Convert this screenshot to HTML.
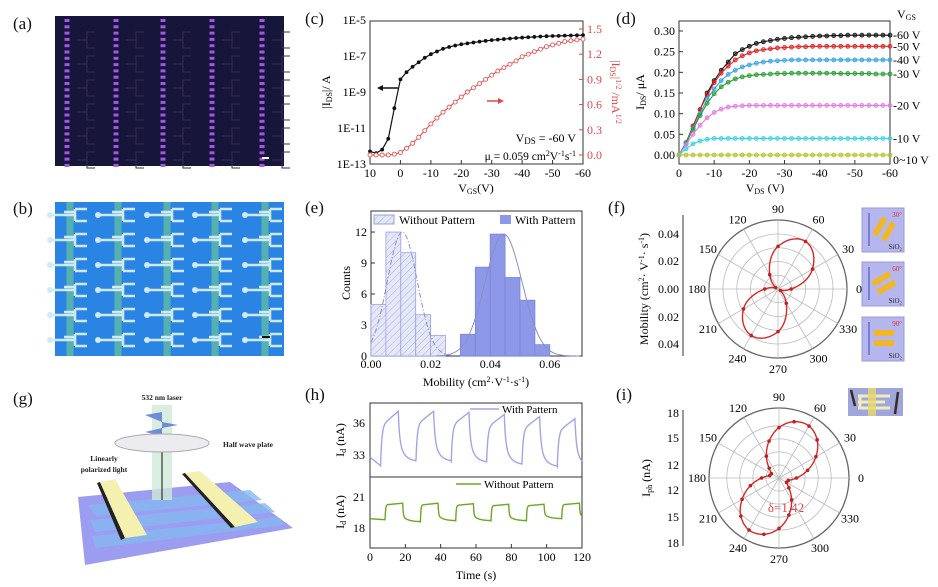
<!DOCTYPE html>
<html><head><meta charset="utf-8"><style>
html,body{margin:0;padding:0;background:#fff;}
svg{display:block;font-family:"Liberation Serif",serif;}
</style></head><body>
<svg id="fig" width="938" height="587" viewBox="0 0 938 587" xmlns="http://www.w3.org/2000/svg">
<defs>
<pattern id="hatch" width="5" height="5" patternUnits="userSpaceOnUse" patternTransform="rotate(45)">
<rect width="5" height="5" fill="#e6e8f8"/><line x1="0" y1="0" x2="0" y2="5" stroke="#a9b0e4" stroke-width="1"/>
</pattern>
</defs>
<g font-size="17" fill="#111">
<text x="13" y="29">(a)</text>
<text x="13" y="214">(b)</text>
<text x="13" y="404">(g)</text>
<text x="305" y="24">(c)</text>
<text x="616" y="24">(d)</text>
<text x="305" y="213">(e)</text>
<text x="608" y="213">(f)</text>
<text x="305" y="400">(h)</text>
<text x="616" y="400">(i)</text>
</g>
<!-- panel a -->
<g id="pa"><rect x="55" y="16" width="229" height="150" fill="#15163a"/></g>
<!-- panel b -->
<g id="pb"><rect x="55" y="202" width="229" height="154" fill="#2a84e4"/></g>
<!-- panel g -->
<g id="pg">
<polygon points="78,497 230,482 293,528 85,565" fill="#9c9cf0"/>
<polygon points="88,505 250,490 262,500 96,516" fill="#86b8f0" opacity="0.8"/>
<polygon points="90,520 265,503 275,512 95,532" fill="#86b8f0" opacity="0.8"/>
<polygon points="92,536 278,517 284,525 96,548" fill="#86b8f0" opacity="0.8"/>
<polygon points="97,483 100,482 125,538 121,540" fill="#222"/>
<polygon points="100,482 115,479 147,535 125,538" fill="#f4f0b0"/>
<polygon points="182,474 185,473 235,527 231,528" fill="#222"/>
<polygon points="185,473 200,471 258,522 235,527" fill="#f4f0b0"/>
<rect x="152" y="405" width="20" height="95" fill="#cfe8d8" opacity="0.8"/>
<line x1="162" y1="450" x2="162" y2="500" stroke="#111" stroke-width="1"/>
<polygon points="145,415 162,412 162,422" fill="#6c8ed8"/>
<polygon points="162,422 178,425 162,428" fill="#6c8ed8"/>
<polygon points="145,432 162,428 162,436" fill="#6c8ed8"/>
<ellipse cx="162" cy="443" rx="47" ry="9" fill="#ececf0" stroke="#aaa"/>
<g font-size="7.5" font-weight="bold" fill="#222">
<text x="162" y="400" text-anchor="middle">532 nm laser</text>
<text x="248" y="447" text-anchor="middle">Half wave plate</text>
<text x="104" y="461" text-anchor="middle">Linearly</text>
<text x="104" y="472" text-anchor="middle">polarized light</text>
</g></g>

<!-- panel c static -->
<g font-size="12">
<rect x="370" y="21" width="213" height="143" fill="none" stroke="#333"/>
<text x="330" y="92" transform="rotate(-90 330 92)" text-anchor="middle">|I<tspan font-size="8" dy="2">DS</tspan><tspan dy="-2">|/ A</tspan></text>
<text x="612" y="92" transform="rotate(90 612 92)" text-anchor="middle" fill="#e04848">|I<tspan font-size="8" dy="2">DS</tspan><tspan dy="-2">|</tspan><tspan font-size="8" dy="-4">1/2</tspan><tspan dy="4"> /mA</tspan><tspan font-size="8" dy="-4">1/2</tspan></text>
<text x="476" y="192" text-anchor="middle">V<tspan font-size="8" dy="2">GS</tspan><tspan dy="-2">(V)</tspan></text>
<text x="576" y="142" text-anchor="end">V<tspan font-size="9" dy="2">DS</tspan><tspan dy="-2"> = -60 V</tspan></text>
<text x="576" y="160" text-anchor="end" font-size="11.5">μ = 0.059 cm<tspan font-size="8" dy="-4">2</tspan><tspan dy="4">V</tspan><tspan font-size="8" dy="-4">-1</tspan><tspan dy="4">s</tspan><tspan font-size="8" dy="-4">-1</tspan></text>
<line x1="398" y1="88" x2="380" y2="88" stroke="#111" stroke-width="1.5"/>
<polygon points="377,88 383,85 383,91" fill="#111"/>
<line x1="487" y1="101" x2="500" y2="101" stroke="#e04848" stroke-width="1.5"/>
<polygon points="504,101 498,98 498,104" fill="#e04848"/>
</g>
<g id="pc"></g>

<!-- panel d static -->
<g font-size="12">
<rect x="679" y="21" width="211" height="143" fill="none" stroke="#333"/>
<text x="644" y="92" transform="rotate(-90 644 92)" text-anchor="middle">I<tspan font-size="8" dy="2">DS</tspan><tspan dy="-2">/ μA</tspan></text>
<text x="765" y="192" text-anchor="middle">V<tspan font-size="8" dy="2">DS</tspan><tspan dy="-2"> (V)</tspan></text>
<text x="897" y="18">V<tspan font-size="8" dy="2">GS</tspan></text>
</g>
<g id="pd"></g>

<!-- panel e static -->
<g font-size="12">
<rect x="371" y="211" width="211" height="145" fill="none" stroke="#333"/>
<text x="350" y="283" transform="rotate(-90 350 283)" text-anchor="middle">Counts</text>
<text x="476" y="386" text-anchor="middle">Mobility (cm<tspan font-size="8" dy="-4">2</tspan><tspan dy="4">·V</tspan><tspan font-size="8" dy="-4">-1</tspan><tspan dy="4">·s</tspan><tspan font-size="8" dy="-4">-1</tspan><tspan dy="4">)</tspan></text>
<rect x="374" y="215" width="20" height="9" fill="url(#hatch)" stroke="#9aa2e0"/>
<text x="399" y="224">Without Pattern</text>
<rect x="500" y="215" width="11" height="9" fill="#8e98e8"/>
<text x="515" y="224">With Pattern</text>
</g>
<g id="pe"></g>

<!-- panel f static -->
<g font-size="12">
<text x="648" y="289" transform="rotate(-90 648 289)" text-anchor="middle">Mobility (cm<tspan font-size="8" dy="-4">2</tspan><tspan dy="4">· V</tspan><tspan font-size="8" dy="-4">-1</tspan><tspan dy="4">· s</tspan><tspan font-size="8" dy="-4">-1</tspan><tspan dy="4">)</tspan></text>
<line x1="683" y1="215" x2="683" y2="356" stroke="#333"/>
</g>
<g id="pf"></g>
<g id="insets"></g>

<!-- panel h static -->
<g font-size="12">
<rect x="370" y="403" width="212" height="74" fill="none" stroke="#333"/>
<rect x="370" y="477" width="212" height="71" fill="none" stroke="#333"/>
<text x="344" y="440" transform="rotate(-90 344 440)" text-anchor="middle">I<tspan font-size="8" dy="2">d</tspan><tspan dy="-2"> (nA)</tspan></text>
<text x="344" y="512" transform="rotate(-90 344 512)" text-anchor="middle">I<tspan font-size="8" dy="2">d</tspan><tspan dy="-2"> (nA)</tspan></text>
<text x="476" y="579" text-anchor="middle">Time (s)</text>
<line x1="470" y1="409" x2="499" y2="409" stroke="#9fa6e6" stroke-width="1.5"/>
<text x="502" y="413" font-size="11">With Pattern</text>
<line x1="456" y1="484" x2="481" y2="484" stroke="#6aa822" stroke-width="1.5"/>
<text x="484" y="488" font-size="11">Without Pattern</text>
</g>
<g id="ph"></g>

<!-- panel i static -->
<g font-size="12">
<text x="650" y="478" transform="rotate(-90 650 478)" text-anchor="middle">I<tspan font-size="8" dy="2">ph</tspan><tspan dy="-2"> (nA)</tspan></text>
<line x1="683" y1="410" x2="683" y2="546" stroke="#333"/>
<g>
<rect x="848" y="388" width="55" height="28" fill="#9ea6dc"/>
<path d="M858,396 H890 M858,402 H885 M858,408 H890 M860,396 V408" stroke="#f2ecb8" stroke-width="3" fill="none"/>
<rect x="868" y="388" width="8" height="28" fill="#e8d86a" opacity="0.8"/>
<line x1="851" y1="390" x2="855" y2="406" stroke="#3a2a20" stroke-width="2.5"/>
<line x1="898" y1="392" x2="895" y2="414" stroke="#3a2a20" stroke-width="2.5"/>
</g>
<text x="786" y="512" fill="#e04040" text-anchor="middle" font-size="13">δ=1.42</text>
</g>
<g id="pi"></g>
</svg>
<script>
// ===== data =====
const cVgs=[10,8,6,4,2,0,-2,-4,-6,-8,-10,-12,-14,-16,-18,-20,-22,-24,-26,-28,-30,-32,-34,-36,-38,-40,-42,-44,-46,-48,-50,-52,-54,-56,-58,-60];
const cLogIds=[-12.3,-12.4,-12.2,-11.6,-9.9,-8.3,-7.9,-7.6,-7.35,-7.1,-6.9,-6.75,-6.6,-6.5,-6.42,-6.35,-6.3,-6.25,-6.2,-6.16,-6.12,-6.09,-6.06,-6.03,-6.0,-5.98,-5.96,-5.94,-5.92,-5.9,-5.89,-5.88,-5.87,-5.86,-5.85,-5.84];
const cSqrtIds=[0,0,0,0,0.01,0.03,0.08,0.14,0.21,0.29,0.37,0.44,0.51,0.57,0.63,0.69,0.75,0.80,0.85,0.90,0.95,1.0,1.04,1.08,1.12,1.17,1.20,1.23,1.26,1.29,1.31,1.33,1.35,1.36,1.37,1.38];
const cXTicks=[10,0,-10,-20,-30,-40,-50,-60];
const cLeftTicks=[-5,-7,-9,-11,-13];
const cLeftTickLabels=["1E-5","1E-7","1E-9","1E-11","1E-13"];
const cRightTicks=[0,0.3,0.6,0.9,1.2,1.5];

const dVds=[0,-2,-4,-6,-8,-10,-12,-14,-16,-18,-20,-22,-24,-26,-28,-30,-32,-34,-36,-38,-40,-42,-44,-46,-48,-50,-52,-54,-56,-58,-60];
const dVgsLabels=["-60 V","-50 V","-40 V","-30 V","-20 V","-10 V","0~10 V"];
const dIds60=[0,0.03,0.07,0.11,0.15,0.18,0.205,0.225,0.245,0.255,0.263,0.27,0.274,0.277,0.28,0.282,0.284,0.285,0.286,0.287,0.288,0.288,0.289,0.289,0.29,0.29,0.29,0.29,0.29,0.29,0.29];
const dIds50=[0,0.03,0.07,0.11,0.145,0.175,0.198,0.215,0.23,0.24,0.247,0.252,0.255,0.257,0.259,0.26,0.261,0.262,0.262,0.263,0.263,0.263,0.263,0.263,0.263,0.263,0.263,0.263,0.263,0.263,0.263];
const dIds40=[0,0.03,0.065,0.1,0.135,0.16,0.18,0.195,0.205,0.213,0.218,0.222,0.225,0.227,0.228,0.229,0.23,0.23,0.23,0.23,0.23,0.23,0.23,0.23,0.23,0.23,0.23,0.23,0.23,0.23,0.23];
const dIds30=[0,0.028,0.062,0.095,0.125,0.148,0.165,0.176,0.184,0.189,0.192,0.194,0.195,0.196,0.197,0.197,0.198,0.198,0.198,0.198,0.198,0.198,0.198,0.197,0.197,0.197,0.197,0.197,0.196,0.196,0.196];
const dIds20=[0,0.025,0.05,0.072,0.09,0.103,0.111,0.116,0.118,0.119,0.12,0.12,0.12,0.12,0.12,0.12,0.12,0.12,0.12,0.12,0.12,0.12,0.12,0.12,0.12,0.12,0.12,0.12,0.12,0.12,0.12];
const dIds10=[0,0.015,0.027,0.034,0.038,0.04,0.04,0.04,0.04,0.04,0.04,0.04,0.04,0.04,0.04,0.04,0.04,0.04,0.04,0.04,0.04,0.04,0.04,0.04,0.04,0.04,0.04,0.04,0.04,0.04,0.04];
const dIds0=[0,0,0,0,0,0,0,0,0,0,0,0,0,0,0,0,0,0,0,0,0,0,0,0,0,0,0,0,0,0,0];
const dXTicks=[0,-10,-20,-30,-40,-50,-60];
const dYTicks=[0,0.05,0.10,0.15,0.20,0.25,0.30];

const eBinStartWithout=[0,0.005,0.01,0.015,0.02];
const eCountsWithout=[5,12,10,4,2];
const eBinStartWith=[0.03,0.035,0.04,0.045,0.05,0.055];
const eCountsWith=[2.1,8.6,11.8,7.6,5.4,1.1];
const eFitWithout=[12,0.0105,0.005];   // amplitude, mean, sigma
const eFitWith=[11.8,0.0445,0.0062];
const eXTicks=[0,0.02,0.04,0.06];
const eYTicks=[0,3,6,9,12];

const fAngles=[0,30,60,90,120,150,180,210,240,270,300,330];
const fMobility=[0.0096,0.029,0.040,0.031,0.012,0.002,0.0096,0.029,0.039,0.031,0.012,0.002];
const fRadialLabels=["0.04","0.02","0.00","0.02","0.04"];

const hTime=[0,20,40,60,80,100,120];
const hTopOn=[6,26,46,66,86,106];
const hTopPeak=[37.1,37.1,37.0,36.8,36.6,36.4];
const hTopBase=[32.0,32.4,32.4,32.3,32.1,31.9];
const hBotOn=[8.5,28.5,48.5,68.5,88.5,108.5];
const hBotPeak=[20.4,20.4,20.35,20.3,20.3,20.4];
const hBotBase=[18.8,18.6,18.7,18.7,18.7,18.9];
const hTopTicks=[33,36];
const hBotTicks=[18,21];

const iAngles=[0,15,30,45,60,75,90,105,120,135,150,165,180,195,210,225,240,255,270,285,300,315,330,345];
const iPhoto=[12.5,13.9,15.4,16.7,17.4,17.2,16.3,14.9,13.4,12.1,11.5,11.6,12.5,13.9,15.4,16.7,17.4,17.2,16.3,14.9,13.4,12.1,11.5,11.6];
const iRadialLabels=["18","15","12","12","15","18"];
const polarAngleLabels=[0,30,60,90,120,150,180,210,240,270,300,330];

// ===== helpers =====
const NS='http://www.w3.org/2000/svg';
function mk(tag,attrs,parent){const e=document.createElementNS(NS,tag);for(const k in attrs)e.setAttribute(k,attrs[k]);parent.appendChild(e);return e;}
function txt(s,attrs,parent){const e=mk('text',attrs,parent);e.textContent=s;return e;}
const G=id=>document.getElementById(id);

// ===== panel a =====
(function(){const g=G('pa');
const cols=[67,116,163,212,262];
for(const cx of cols){for(let y=19;y<164;y+=6.3){
 const r=mk('rect',{x:cx-2.5,y:y,width:5,height:3,fill:'#a454e6'},g);
 
 
}}
for(const cx of cols){for(let y=40;y<164;y+=24){
 const p=mk('path',{d:`M${cx+10},${y} h10 v-8 h8 M${cx+20},${y} v8 h8`,stroke:'#3a2a55',fill:'none','stroke-width':1},g);
 
 
}}
const sb=mk('rect',{x:262,y:157,width:7,height:2,fill:'#fff'},g);


})();

// ===== panel b =====
(function(){const g=G('pb');
const cols=[70,118,167,215,265];
for(const cx of cols){
 const s=mk('rect',{x:cx-3.5,y:202,width:7,height:154,fill:'#5db8a6',opacity:0.85},g);
 
 
}
for(let ry=215;ry<356;ry+=25){for(const cx of cols){
 const p=mk('path',{d:`M${cx-18},${ry} H${cx+5} M${cx+5},${ry-6} V${ry+6} M${cx+5},${ry-6} H${cx+17} M${cx+5},${ry+6} H${cx+17} M${cx-6},${ry-3} H${cx+5}`,stroke:'#cfeaf6','stroke-width':2.6,fill:'none'},g);
 
 
 const c=mk('circle',{cx:cx-20,cy:ry,r:3,fill:'#cfeaf6'},g);
 
 
}}
const sb=mk('rect',{x:262,y:336,width:8,height:2,fill:'#111'},g);


})();

// ===== panel c =====
const xc=v=>370+(10-v)*(213/70), yL=l=>164-(l+13)*18, yR=v=>155-v*84;
(function(){const g=G('pc');
cXTicks.forEach(v=>{const t=txt(String(v),{x:xc(v),y:177,'text-anchor':'middle','font-size':12},g);
 
 
 const l=mk('line',{x1:xc(v),x2:xc(v),y1:164,y2:160,stroke:'#333'},g);
 
 });
cLeftTicks.forEach((v,i)=>{const t=txt(cLeftTickLabels[i],{x:366,y:yL(v)+4,'text-anchor':'end','font-size':12},g);
 
 });
cRightTicks.forEach(v=>{const t=txt(v.toFixed(1),{x:587,y:yR(v)+4,'font-size':12,fill:'#e04848'},g);
 
 
 const l=mk('line',{x1:583,x2:579,y1:yR(v),y2:yR(v),stroke:'#e04848'},g);
 
 });
const pb=mk('polyline',{points:cVgs.map((v,i)=>xc(v)+','+yL(cLogIds[i])).join(' '),fill:'none',stroke:'#111','stroke-width':1.2},g);


const pr=mk('polyline',{points:cVgs.map((v,i)=>xc(v)+','+yR(cSqrtIds[i])).join(' '),fill:'none',stroke:'#e85858','stroke-width':1.2},g);


cVgs.forEach((v,i)=>{
 const a=mk('circle',{cx:xc(v),cy:yL(cLogIds[i]),r:1.9,fill:'#111'},g);
 
 
 const b=mk('circle',{cx:xc(v),cy:yR(cSqrtIds[i]),r:2,fill:'#fff',stroke:'#e85858','stroke-width':0.9},g);
 
 
});
})();

// ===== panel d =====
const xd=v=>679-v*(211/60), yd=v=>155-v*413.3;
(function(){const g=G('pd');
dXTicks.forEach(v=>{const t=txt(String(v),{x:xd(v),y:177,'text-anchor':'middle','font-size':12},g);
 
 
 const l=mk('line',{x1:xd(v),x2:xd(v),y1:164,y2:160,stroke:'#333'},g);
 
 });
dYTicks.forEach(v=>{const t=txt(v.toFixed(2),{x:675,y:yd(v)+4,'text-anchor':'end','font-size':12},g);
 
 
 const l=mk('line',{x1:679,x2:683,y1:yd(v),y2:yd(v),stroke:'#333'},g);
 
 });
const series=[dIds60,dIds50,dIds40,dIds30,dIds20,dIds10,dIds0];
const colors=['#111','#e02424','#35a4e4','#26a030','#e47ce4','#36d4e4','#b4c428'];
series.forEach((s,k)=>{
 const pl=mk('polyline',{points:dVds.map((v,i)=>xd(v)+','+yd(s[i])).join(' '),fill:'none',stroke:colors[k],'stroke-width':1.1},g);
 
 
 dVds.forEach((v,i)=>{const c=mk('circle',{cx:xd(v),cy:yd(s[i]),r:2,fill:colors[k],'fill-opacity':0.55,stroke:colors[k],'stroke-width':0.8},g);
  
  });
 const lab=txt(dVgsLabels[k],{x:893,y:(k==6?yd(s[30])+9:yd(s[30])+4),'font-size':12},g);
 
 
});
})();

// ===== panel e =====
const xe=v=>371+v*2980, ye=c=>356-c*10.33;
(function(){const g=G('pe');
eXTicks.forEach(v=>{const t=txt(v.toFixed(2),{x:xe(v),y:368,'text-anchor':'middle','font-size':12},g);
 
 });
eYTicks.forEach(v=>{const t=txt(String(v),{x:367,y:ye(v)+4,'text-anchor':'end','font-size':12},g);
 
 
 const l=mk('line',{x1:371,x2:375,y1:ye(v),y2:ye(v),stroke:'#333'},g);
 
 });
const bw=0.005;
eBinStartWithout.forEach((b,i)=>{const r=mk('rect',{x:xe(b),y:ye(eCountsWithout[i]),width:xe(b+bw)-xe(b),height:ye(0)-ye(eCountsWithout[i]),fill:'url(#hatch)',stroke:'#9aa2e0','stroke-width':0.8},g);
 
 });
eBinStartWith.forEach((b,i)=>{const r=mk('rect',{x:xe(b),y:ye(eCountsWith[i]),width:xe(b+bw)-xe(b),height:ye(0)-ye(eCountsWith[i]),fill:'#8e98e8',stroke:'#7a84d8','stroke-width':0.8},g);
 
 });
function gauss(p,from,to){const pts=[];for(let x=from;x<=to+1e-9;x+=0.0005){pts.push(xe(x)+','+ye(p[0]*Math.exp(-((x-p[1])**2)/(2*p[2]*p[2]))));}return pts.join(' ');}
const f1=mk('polyline',{points:gauss(eFitWithout,0,0.027),fill:'none',stroke:'#8890c8','stroke-width':1,'stroke-dasharray':'5,2,1,2'},g);


const f2=mk('polyline',{points:gauss(eFitWith,0.022,0.07),fill:'none',stroke:'#8890c8','stroke-width':1},g);


})();

// ===== polar helpers =====
function polarGrid(g,cx,cy,rings,outer,prefix){
 rings.forEach(r=>{const c=mk('circle',{cx:cx,cy:cy,r:r,fill:'none',stroke:'#bbb','stroke-width':0.8},g);
  
  });
 const o=mk('circle',{cx:cx,cy:cy,r:outer,fill:'none',stroke:'#666','stroke-width':1.3},g);
 
 
 polarAngleLabels.forEach(a=>{const t=a*Math.PI/180;
  const l=mk('line',{x1:cx,y1:cy,x2:cx+outer*Math.cos(t),y2:cy-outer*Math.sin(t),stroke:'#bbb','stroke-width':0.8},g);
  
  
  const lx=cx+(outer+12)*Math.cos(t), ly=cy-(outer+11)*Math.sin(t)+4;
  const tx=txt(String(a),{x:lx,y:ly,'text-anchor':'middle','font-size':12},g);
  
  });
}
function smoothPolar(angles,vals,rf,cx,cy){ // cyclic catmull-rom in (angle, r)
 const n=angles.length, pts=[];
 for(let i=0;i<n;i++){const r0=rf(vals[(i-1+n)%n]),r1=rf(vals[i]),r2=rf(vals[(i+1)%n]),r3=rf(vals[(i+2)%n]);
  const a1=angles[i], a2=(i+1<n?angles[i+1]:angles[0]+360);
  for(let s=0;s<10;s++){const u=s/10;
   const r=0.5*((2*r1)+(-r0+r2)*u+(2*r0-5*r1+4*r2-r3)*u*u+(-r0+3*r1-3*r2+r3)*u*u*u);
   const a=(a1+(a2-a1)*u)*Math.PI/180; pts.push((cx+r*Math.cos(a)).toFixed(2)+','+(cy-r*Math.sin(a)).toFixed(2));}}
 return 'M'+pts.join(' L')+'Z';
}

// ===== panel f =====
(function(){const g=G('pf');const cx=778,cy=289,rf=v=>v*1375;
polarGrid(g,cx,cy,[rf(0.01),rf(0.02),rf(0.03),rf(0.04)],69,'f');
[234,261,289,317,344].forEach((y,i)=>{const t=txt(fRadialLabels[i],{x:679,y:y+4,'text-anchor':'end','font-size':12},g);
 
 });
const p=mk('path',{d:smoothPolar(fAngles,fMobility,rf,cx,cy),fill:'none',stroke:'#d82828','stroke-width':1.4},g);


fAngles.forEach((a,i)=>{const t=a*Math.PI/180,r=rf(fMobility[i]);
 const c=mk('circle',{cx:cx+r*Math.cos(t),cy:cy-r*Math.sin(t),r:1.8,fill:'#c02020'},g);
 
 });
})();
(function(){const g=G('insets');
const ys=[208,262,317], ang=['30°','60°','90°'], rot=[-60,-30,0];
ys.forEach((y,k)=>{
 const r=mk('rect',{x:862,y:y,width:42,height:44,fill:'#b6b6ee',stroke:'#9a9ad8'},g);
 
 
 const ar=mk('line',{x1:869,y1:y+5,x2:869,y2:y+38,stroke:'#3a4ab0','stroke-width':1},g);
 
 
 const gg=mk('g',{transform:`rotate(${rot[k]} 884 ${y+21})`},g);
 
 
 const e1=mk('rect',{x:874,y:y+13,width:20,height:6,fill:'#f0b828'},gg);
 
 
 const e2=mk('rect',{x:874,y:y+23,width:20,height:6,fill:'#f0b828'},gg);
 
 
 const t=txt(ang[k],{x:902,y:y+9,'text-anchor':'end','font-size':7,fill:'#e03030'},g);
 
 
 const s=txt('SiO₂',{x:902,y:y+41,'text-anchor':'end','font-size':7,fill:'#222'},g);
 
 
});
})();

// ===== panel h =====
const xh=t=>370+t*(212/120), yh1=v=>455-(v-33)*10.67, yh2=v=>528-(v-18)*10.33;
function pulseTrace(on,peak,base,start,kind){
 const pts=[];
 for(let t=0;t<=120.001;t+=0.25){let v;
  let i=-1;for(let k=0;k<on.length;k++)if(t>=on[k])i=k;
  if(i<0){v=start+(base[0]-start)*(t/on[0]);}
  else{const dt=t-on[i];const nb=base[Math.min(i+1,base.length-1)];
   if(dt<10){v=kind?base[i]+(peak[i]-base[i])*(0.9*(1-Math.exp(-dt/0.3))+0.1*dt/10)
                :base[i]+(peak[i]-base[i])*(0.72*(1-Math.exp(-dt/0.7))+0.28*dt/10);}
   else{const d=dt-10;v=kind?nb+(peak[i]-nb)*(0.7*Math.exp(-d/0.3)+0.3*Math.exp(-d/3))
                :nb+(peak[i]-nb)*(0.55*Math.exp(-d/0.7)+0.45*Math.exp(-d/3));}}
  pts.push([t,v]);}
 return pts;
}
(function(){const g=G('ph');
hTime.forEach(t=>{const tx=txt(String(t),{x:xh(t),y:561,'text-anchor':'middle','font-size':12},g);
 
 
 const l=mk('line',{x1:xh(t),x2:xh(t),y1:548,y2:544,stroke:'#333'},g);
 
 });
hTopTicks.forEach(v=>{const t=txt(String(v),{x:365,y:yh1(v)+4,'text-anchor':'end','font-size':12},g);
 
 });
hBotTicks.forEach(v=>{const t=txt(String(v),{x:365,y:yh2(v)+4,'text-anchor':'end','font-size':12},g);
 
 });
const top=pulseTrace(hTopOn,hTopPeak,hTopBase,32.8,0);
const p1=mk('polyline',{points:top.map(p=>xh(p[0]).toFixed(1)+','+yh1(p[1]).toFixed(1)).join(' '),fill:'none',stroke:'#9fa6e6','stroke-width':1.4},g);


const bot=pulseTrace(hBotOn,hBotPeak,hBotBase,18.9,1);
const p2=mk('polyline',{points:bot.map(p=>xh(p[0]).toFixed(1)+','+yh2(p[1]).toFixed(1)).join(' '),fill:'none',stroke:'#6aa822','stroke-width':1.4},g);


})();

// ===== panel i =====
(function(){const g=G('pi');const cx=779,cy=478,rf=v=>(v-10.5)*8.7;
polarGrid(g,cx,cy,[rf(12),rf(13.5),rf(15),rf(16.5)],70,'i');
[413,438,465,490,517,543].forEach((y,i)=>{const t=txt(iRadialLabels[i],{x:679,y:y+4,'text-anchor':'end','font-size':12},g);
 
 });
const p=mk('path',{d:smoothPolar(iAngles,iPhoto,rf,cx,cy),fill:'none',stroke:'#d82828','stroke-width':1.4},g);


iAngles.forEach((a,i)=>{const t=a*Math.PI/180,r=rf(iPhoto[i]);
 const c=mk('circle',{cx:cx+r*Math.cos(t),cy:cy-r*Math.sin(t),r:1.8,fill:'#c02020'},g);
 
 });
})();
</script>
</body></html>
